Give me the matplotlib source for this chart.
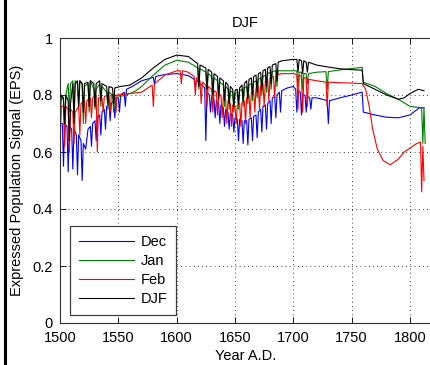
import matplotlib
matplotlib.use("Agg")
import matplotlib.pyplot as plt
from matplotlib.lines import Line2D

# ---------------- data ----------------
dec_years = [1500,1502,1503,1504,1506,1507,1508,1510,1511,1512,1514,1515,1516,1518,1519,1520,1522,
             1524,1526,1527,1528,1530,1531,1532,1534,1535,1536,1538,1539,1540,1542,1543,1544,1546,1547,
             1548,1550,1551,1552,1555,1556,1557,1562,1570,1580,1581,1582,1590,1600,1610,1615,1616,1617,
             1620,1624,1625,1626,1628,1629,1630,1632,1633,1634,1636,1637,1638,1640,1641,1642,1644,1645,
             1646,1648,1649,1650,1652,1653,1654,1656,1657,1658,1660,1661,1662,1664,1665,1666,1668,1669,
             1670,1672,1673,1674,1676,1677,1678,1680,1681,1682,1684,1685,1686,1688,1689,1690,1695,1700,
             1702,1703,1704,1706,1707,1708,1710,1711,1712,1714,1715,1716,1720,1725,1729,1730,1731,1740,
             1750,1759,1760,1770,1780,1790,1800,1808,1812]
dec_vals = [0.70,0.70,0.55,0.70,0.69,0.53,0.69,0.68,0.54,0.68,0.66,0.52,0.66,0.64,0.50,0.63,0.61,
            0.68,0.69,0.62,0.70,0.71,0.64,0.72,0.73,0.66,0.74,0.75,0.68,0.76,0.77,0.71,0.77,0.78,0.72,
            0.79,0.79,0.74,0.80,0.81,0.76,0.82,0.83,0.85,0.862,0.835,0.865,0.872,0.875,0.868,0.855,0.83,0.852,
            0.84,0.825,0.64,0.81,0.80,0.74,0.795,0.785,0.72,0.78,0.77,0.70,0.765,0.755,0.69,0.75,0.74,0.68,
            0.735,0.73,0.67,0.72,0.715,0.64,0.715,0.71,0.63,0.71,0.71,0.625,0.715,0.72,0.64,0.725,0.73,0.65,
            0.74,0.75,0.67,0.76,0.765,0.68,0.77,0.78,0.70,0.79,0.795,0.72,0.80,0.81,0.74,0.815,0.825,0.83,
            0.82,0.74,0.815,0.81,0.73,0.80,0.80,0.74,0.795,0.79,0.75,0.79,0.79,0.785,0.78,0.70,0.78,0.79,
            0.80,0.81,0.74,0.73,0.722,0.72,0.73,0.755,0.755]

jan_years = [1500,1501,1503,1504,1505,1507,1508,1509,1511,1512,1513,1515,1516,1517,1519,1520,1521,
             1524,1525,1526,1529,1530,1531,1534,1535,1536,1540,1541,1542,1545,1546,1547,1552,1560,1565,
             1570,1580,1590,1600,1610,1618,1619,1620,1625,1626,1627,1630,1631,1632,1635,1636,1637,1640,
             1641,1642,1644,1645,1646,1648,1649,1650,1652,1653,1654,1656,1657,1658,1660,1661,1662,1664,
             1665,1666,1668,1669,1670,1672,1673,1674,1676,1677,1678,1680,1681,1682,1685,1686,1687,1700,
             1703,1704,1705,1707,1708,1709,1711,1712,1713,1720,1728,1729,1730,1740,1750,1759,1760,1770,
             1780,1790,1800,1810,1811,1812,1813]
jan_vals = [0.62,0.80,0.78,0.65,0.80,0.84,0.74,0.84,0.85,0.72,0.85,0.84,0.75,0.85,0.84,0.70,0.83,
            0.84,0.74,0.85,0.82,0.75,0.82,0.84,0.76,0.83,0.81,0.75,0.81,0.80,0.74,0.80,0.795,0.805,0.815,
            0.83,0.87,0.905,0.922,0.915,0.895,0.82,0.893,0.88,0.80,0.875,0.865,0.79,0.86,0.85,0.78,0.845,0.835,
            0.76,0.83,0.82,0.75,0.815,0.81,0.74,0.805,0.81,0.75,0.815,0.82,0.76,0.825,0.83,0.77,0.835,0.84,
            0.78,0.845,0.85,0.79,0.855,0.86,0.80,0.865,0.87,0.81,0.875,0.88,0.82,0.882,0.885,0.83,0.885,0.885,
            0.885,0.83,0.88,0.88,0.82,0.875,0.875,0.84,0.875,0.88,0.882,0.82,0.882,0.888,0.893,0.897,0.845,0.83,
            0.805,0.785,0.76,0.755,0.63,0.755,0.63]

feb_years = [1500,1501,1503,1504,1505,1507,1508,1509,1511,1512,1513,1516,1517,1518,1521,1522,1523,
             1526,1527,1528,1531,1532,1533,1536,1537,1538,1542,1543,1544,1547,1548,1549,1560,1570,1579,
             1580,1581,1590,1600,1603,1604,1605,1610,1615,1616,1617,1620,1621,1622,1625,1626,1627,1630,
             1631,1632,1634,1635,1636,1638,1639,1640,1642,1643,1644,1646,1647,1648,1650,1651,1652,1654,
             1655,1656,1658,1659,1660,1662,1663,1664,1666,1667,1668,1670,1671,1672,1674,1675,1676,1678,
             1679,1680,1683,1684,1685,1690,1700,1703,1704,1705,1707,1708,1709,1711,1712,1713,1720,1728,
             1729,1730,1740,1750,1759,1762,1765,1768,1772,1777,1783,1790,1795,1800,1805,1809,1810,1811,1812]
feb_vals = [0.62,0.76,0.76,0.62,0.76,0.75,0.60,0.75,0.74,0.63,0.74,0.76,0.66,0.77,0.78,0.70,0.78,
            0.79,0.72,0.79,0.80,0.60,0.79,0.79,0.74,0.795,0.80,0.74,0.80,0.80,0.74,0.80,0.805,0.81,0.835,
            0.76,0.84,0.87,0.885,0.885,0.84,0.885,0.88,0.865,0.80,0.86,0.85,0.77,0.845,0.835,0.76,0.83,0.82,
            0.74,0.815,0.81,0.73,0.805,0.80,0.72,0.795,0.785,0.70,0.78,0.77,0.69,0.765,0.76,0.70,0.765,0.77,
            0.69,0.775,0.78,0.70,0.79,0.80,0.72,0.81,0.815,0.74,0.825,0.83,0.75,0.835,0.84,0.76,0.85,0.855,
            0.78,0.86,0.865,0.79,0.87,0.875,0.875,0.872,0.75,0.87,0.865,0.74,0.86,0.86,0.76,0.855,0.85,0.845,
            0.76,0.845,0.843,0.842,0.84,0.82,0.76,0.68,0.61,0.57,0.555,0.575,0.60,0.614,0.628,0.635,0.46,0.62,0.50]

djf_years = [1500,1501,1503,1504,1505,1507,1508,1509,1511,1512,1513,1515,1516,1517,1519,1520,1521,
             1524,1525,1526,1529,1530,1531,1534,1535,1536,1540,1541,1542,1545,1546,1547,1552,1560,1570,
             1580,1590,1600,1610,1618,1619,1620,1625,1626,1627,1630,1631,1632,1635,1636,1637,1640,1641,
             1642,1644,1645,1646,1648,1649,1650,1652,1653,1654,1656,1657,1658,1660,1661,1662,1664,1665,
             1666,1668,1669,1670,1672,1673,1674,1676,1677,1678,1680,1681,1682,1685,1686,1687,1690,1700,
             1703,1704,1705,1707,1708,1709,1711,1712,1713,1720,1730,1740,1750,1759,1760,1770,1780,1790,
             1795,1800,1807,1812]
djf_vals = [0.74,0.80,0.79,0.70,0.80,0.78,0.64,0.77,0.84,0.70,0.84,0.85,0.76,0.85,0.84,0.74,0.84,
            0.845,0.76,0.85,0.84,0.76,0.84,0.85,0.78,0.84,0.83,0.77,0.83,0.825,0.77,0.825,0.83,0.835,0.86,
            0.895,0.925,0.94,0.935,0.91,0.83,0.905,0.895,0.82,0.89,0.88,0.80,0.875,0.865,0.79,0.86,0.85,0.78,
            0.845,0.835,0.77,0.83,0.82,0.76,0.815,0.82,0.77,0.825,0.835,0.78,0.84,0.85,0.79,0.855,0.86,0.80,
            0.865,0.87,0.81,0.875,0.88,0.82,0.885,0.89,0.83,0.895,0.90,0.84,0.905,0.91,0.85,0.915,0.92,0.925,
            0.925,0.88,0.925,0.92,0.875,0.92,0.915,0.88,0.915,0.905,0.898,0.892,0.889,0.887,0.84,0.82,0.80,0.785,
            0.79,0.805,0.82,0.815]

series_labels = ["Dec", "Jan", "Feb", "DJF"]
x_ticks = [1500, 1550, 1600, 1650, 1700, 1750, 1800]
y_ticks = [0, 0.2, 0.4, 0.6, 0.8, 1]
y_tick_labels = ["0", "0.2", "0.4", "0.6", "0.8", "1"]

# ---------------- figure ----------------
plt.rcParams['font.family'] = ['Liberation Sans', 'DejaVu Sans']
W, H = 431, 365
fig = plt.figure(figsize=(W / 100, H / 100), dpi=100)
ax = fig.add_axes([60 / W, (H - 323) / H, (W - 60) / W, (323 - 38) / H])

colors = ['#0000ff', '#008000', '#ff0000', '#000000']
for yrs, vals, lab, c in zip([dec_years, jan_years, feb_years, djf_years],
                             [dec_vals, jan_vals, feb_vals, djf_vals],
                             series_labels, colors):
    ax.plot(yrs, vals, color=c, lw=0.8, label=lab)

ax.set_xlim(1500, 1818)
ax.set_ylim(0, 1)
ax.set_xticks(x_ticks)
ax.set_yticks(y_ticks)
ax.set_yticklabels(y_tick_labels)
ax.tick_params(direction='in', length=4, width=0.6, labelsize=10.5,
               top=True, colors='#000000')
ax.tick_params(axis='x', pad=6)
ax.tick_params(axis='y', pad=5)
ax.grid(True, color='#000000', linestyle=(0, (1, 4)), linewidth=0.6)
for s in ['left', 'top', 'bottom']:
    ax.spines[s].set_color('#303030')
    ax.spines[s].set_linewidth(0.8)
ax.spines['right'].set_visible(False)

ax.set_title("DJF", fontsize=10.5, pad=8)
ax.set_xlabel("Year A.D.", fontsize=10.5, labelpad=3)
ax.set_ylabel("Expressed Population Signal (EPS)", fontsize=10.5, labelpad=6)

leg = ax.legend(loc='lower left', bbox_to_anchor=(10 / 371, 8 / 285), borderaxespad=0,
                fontsize=10.5, handlelength=3.8, handletextpad=0.45, labelspacing=0.35,
                borderpad=0.6, fancybox=False, framealpha=1, edgecolor='#404040')
leg.get_frame().set_linewidth(0.9)

fig.add_artist(Line2D([5.5 / W, 5.5 / W], [0, 1], transform=fig.transFigure,
                      color='black', lw=2.2))

fig.savefig("out.png", dpi=100)
